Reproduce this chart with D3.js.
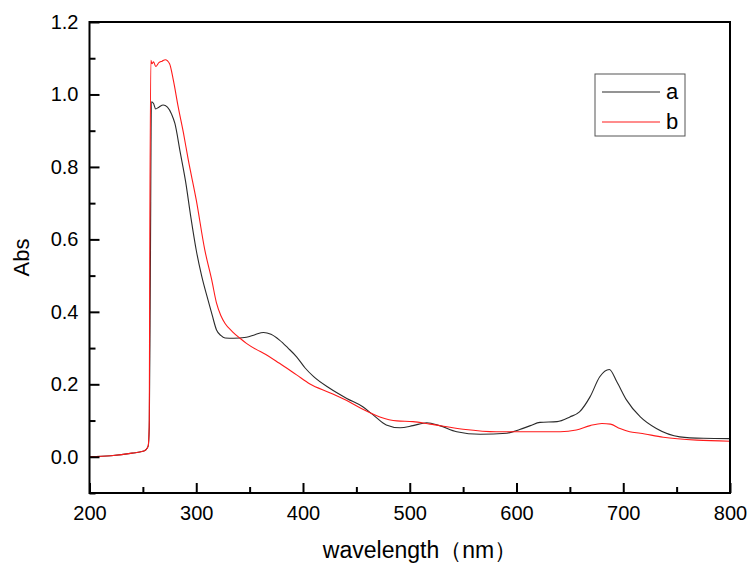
<!DOCTYPE html>
<html lang="en">
<head>
  <meta charset="UTF-8">
  <script src="https://d3js.org/d3.v7.min.js"></script>
  <title>Abs spectrum</title>
  <style>
    body { margin: 0; background: #fff; }
    text { font-family: "Liberation Sans", Arial, sans-serif; fill: #000; }
  </style>
</head>
<body>
  <script>
    // series a (black)
    const wlA = [200, 220, 240, 250, 253, 255, 256, 257, 258, 260, 262, 265, 269, 273, 277, 280, 285, 290, 295, 300, 305, 311, 315, 319, 323, 327, 335, 347, 355, 363, 370, 378, 386, 394, 402, 410, 425, 441, 456, 466, 478, 491, 503, 516, 528, 544, 566, 591, 603, 613, 622, 638, 650, 659, 669, 678, 687, 694, 703, 716, 731, 753, 775, 800]
    const absA = [0.0, 0.003, 0.01, 0.015, 0.02, 0.03, 0.08, 0.5, 0.98, 0.975, 0.96, 0.965, 0.971, 0.965, 0.945, 0.92, 0.84, 0.76, 0.66, 0.57, 0.5, 0.433, 0.39, 0.35, 0.335, 0.328, 0.327, 0.33, 0.337, 0.343, 0.338, 0.322, 0.3, 0.276, 0.245, 0.221, 0.189, 0.161, 0.138, 0.115, 0.088, 0.08, 0.086, 0.094, 0.086, 0.069, 0.062, 0.065, 0.075, 0.086, 0.095, 0.097, 0.11, 0.124, 0.166, 0.221, 0.241, 0.207, 0.157, 0.11, 0.078, 0.055, 0.051, 0.05]

    // series b (red)
    const wlB = [200, 220, 240, 250, 253, 255, 256, 256.5, 257.5, 258.5, 260, 262, 265, 268, 271, 275, 278.5, 283, 288, 292.5, 300, 308, 314.5, 319, 323, 327, 334, 341, 347, 357, 363, 378, 394, 406.5, 425, 441, 456, 472, 488, 503, 519, 550, 581, 613, 641, 656, 669, 680, 688, 697, 706, 716, 737.5, 769, 800]
    const absB = [0.0, 0.003, 0.01, 0.015, 0.02, 0.03, 0.1, 0.6, 1.094, 1.085, 1.09, 1.077, 1.088, 1.092, 1.096, 1.085, 1.04, 0.967, 0.894, 0.82, 0.709, 0.571, 0.488, 0.424, 0.39, 0.368, 0.345, 0.327, 0.313, 0.295, 0.286, 0.258, 0.226, 0.201, 0.177, 0.155, 0.131, 0.11, 0.099, 0.097, 0.09, 0.076, 0.069, 0.069, 0.069, 0.074, 0.086, 0.092, 0.09, 0.078, 0.069, 0.065, 0.054, 0.046, 0.043]

    const seriesNames = ["a", "b"]
    const seriesColors = ["#2a2a2a", "#ff1a1a"]

    const xTicks = [200, 300, 400, 500, 600, 700, 800]
    const xMinor = [250, 350, 450, 550, 650, 750]
    const yTicks = [0.0, 0.2, 0.4, 0.6, 0.8, 1.0, 1.2]
    const yMinor = [-0.1, 0.1, 0.3, 0.5, 0.7, 0.9, 1.1]

    let dimension = {
      width: 750,
      height: 566,
      margin: { top: 22, right: 20, bottom: 73, left: 89.5 }
    }
    dimension.boundedWidth = dimension.width - dimension.margin.left - dimension.margin.right
    dimension.boundedHeight = dimension.height - dimension.margin.top - dimension.margin.bottom

    const svg = d3.select("body")
      .append("svg")
      .attr("width", dimension.width)
      .attr("height", dimension.height)

    const bounds = svg.append("g")
      .attr("transform", `translate(${dimension.margin.left}, ${dimension.margin.top})`)

    const xScale = d3.scaleLinear()
      .domain([200, 800])
      .range([0, dimension.boundedWidth])

    const yScale = d3.scaleLinear()
      .domain([-0.1, 1.2])
      .range([dimension.boundedHeight, 0])

    const lineGenerator = d3.line()
      .x(d => xScale(d[0]))
      .y(d => yScale(d[1]))
      .curve(d3.curveMonotoneX)

    const series = [d3.zip(wlA, absA), d3.zip(wlB, absB)]

    series.forEach((s, i) => {
      bounds.append("path")
        .attr("d", lineGenerator(s))
        .attr("fill", "none")
        .attr("stroke", seriesColors[i])
        .attr("stroke-width", 1.1)
    })

    // axes, ticks pointing inward
    bounds.append("g")
      .attr("transform", `translate(0, ${dimension.boundedHeight})`)
      .call(d3.axisBottom(xScale).tickValues(xTicks).tickSize(-10).tickPadding(13).tickFormat(d3.format("d")))
    bounds.append("g")
      .attr("transform", `translate(0, ${dimension.boundedHeight})`)
      .call(d3.axisBottom(xScale).tickValues(xMinor).tickSize(-6).tickFormat(""))

    bounds.append("g")
      .call(d3.axisLeft(yScale).tickValues(yTicks).tickSize(-10).tickPadding(11).tickFormat(d3.format(".1f")))
    bounds.append("g")
      .call(d3.axisLeft(yScale).tickValues(yMinor).tickSize(-6).tickFormat(""))

    bounds.selectAll(".domain").remove()
    bounds.selectAll(".tick line").attr("stroke", "#000").attr("stroke-width", 2)
    bounds.selectAll(".tick text").style("font-size", "20px").attr("fill", "#000")

    bounds.append("rect")
      .attr("width", dimension.boundedWidth)
      .attr("height", dimension.boundedHeight)
      .attr("fill", "none")
      .attr("stroke", "#000")
      .attr("stroke-width", 2)

    // axis titles
    svg.append("text")
      .attr("x", 420)
      .attr("y", 558)
      .attr("text-anchor", "middle")
      .style("font-size", "23px")
      .text("wavelength（nm）")

    svg.append("text")
      .attr("transform", `translate(29, ${dimension.margin.top + dimension.boundedHeight / 2}) rotate(-90)`)
      .attr("text-anchor", "middle")
      .style("font-size", "22px")
      .text("Abs")

    // legend
    const legend = svg.append("g").attr("transform", "translate(595, 74)")
    legend.append("rect")
      .attr("width", 90)
      .attr("height", 62)
      .attr("fill", "#fff")
      .attr("stroke", "#555")
      .attr("stroke-width", 1)
    seriesNames.forEach((name, i) => {
      const y = 18 + i * 30
      legend.append("line")
        .attr("x1", 7).attr("x2", 65)
        .attr("y1", y).attr("y2", y)
        .attr("stroke", seriesColors[i])
        .attr("stroke-width", 1.1)
      legend.append("text")
        .attr("x", 71)
        .attr("y", y + 7)
        .style("font-size", "22px")
        .text(name)
    })
  </script>
</body>
</html>
